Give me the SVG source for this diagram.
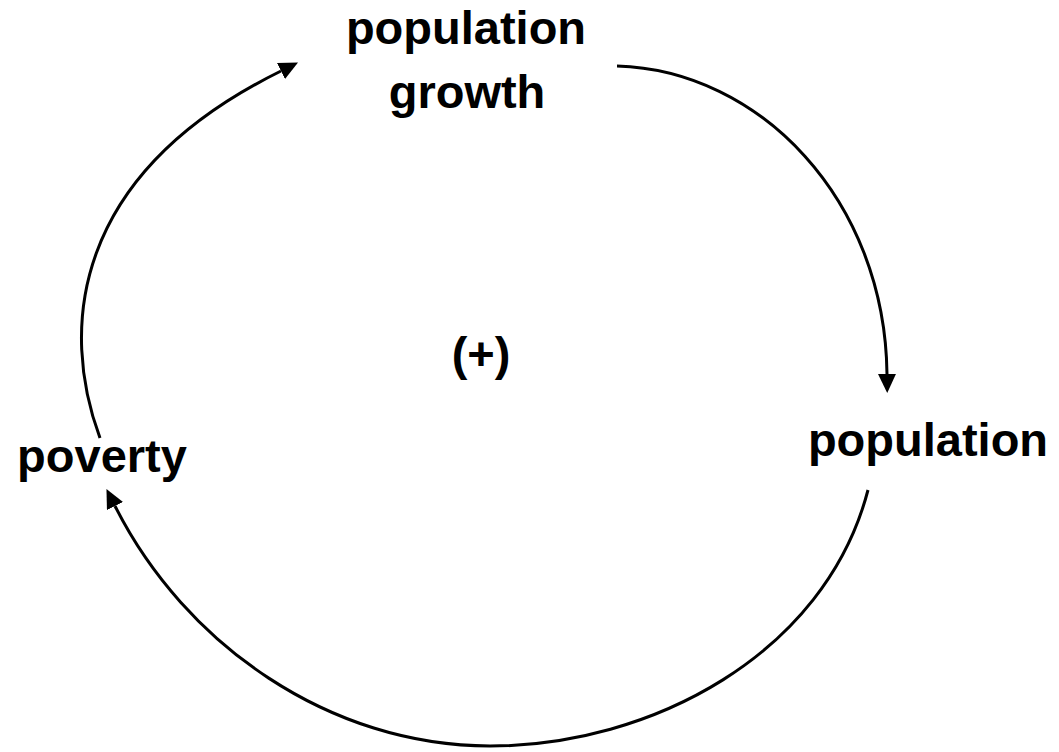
<svg xmlns="http://www.w3.org/2000/svg" width="1059" height="752" viewBox="0 0 1059 752">
<style>
.lbl{font-family:"Liberation Sans",Arial,sans-serif;font-weight:bold;font-size:47px;fill:#000;text-anchor:middle}
.arc{fill:none;stroke:#000;stroke-width:3}
</style>
<defs>
<marker id="ah" markerUnits="userSpaceOnUse" markerWidth="19" markerHeight="18" refX="0" refY="9" orient="auto" viewBox="0 0 19 18">
<path d="M0,0 L19,9 L0,18 z" fill="#000"/>
</marker>
</defs>
<rect width="1059" height="752" fill="#fff"/>
<g id="connectors">
<path class="arc" d="M617,66 C760,70 885,200 887,374" marker-end="url(#ah)"/>
<path class="arc" d="M868,490 C825,655 650,746 490,746 C330,746 185,645 115,506" marker-end="url(#ah)"/>
<path class="arc" d="M100,438 C60,330 70,175 281,71" marker-end="url(#ah)"/>
</g>
<g id="node-growth">
<text class="lbl" x="466" y="44">population</text>
<text class="lbl" x="467" y="108">growth</text>
</g>
<g id="node-population">
<text class="lbl" x="928" y="456">population</text>
</g>
<g id="node-poverty">
<text class="lbl" x="102" y="472">poverty</text>
</g>
<g id="loop-sign">
<text class="lbl" x="481" y="370">(+)</text>
</g>
</svg>
